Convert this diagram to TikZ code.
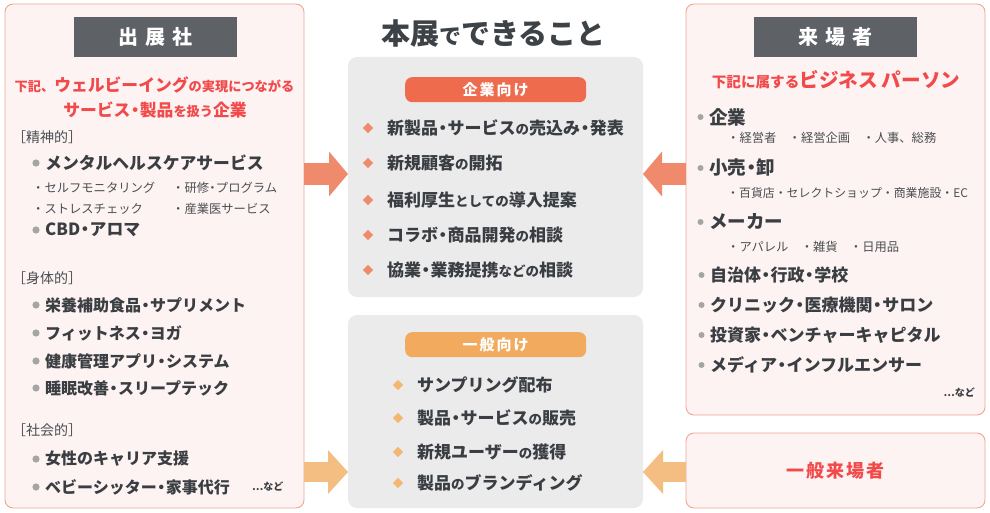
\documentclass[tikz,border=0pt]{standalone}
\usepackage{fontspec}
\setmainfont{Noto Sans CJK JP}
\usetikzlibrary{arrows.meta}
\definecolor{panelfill}{HTML}{FDF3F2}
\definecolor{panelline}{HTML}{F0A594}
\definecolor{titlegray}{HTML}{5E6166}
\definecolor{redtxt}{HTML}{F2494B}
\definecolor{txt}{HTML}{3A3E43}
\definecolor{subtxt}{HTML}{4A4E53}
\definecolor{titletxt}{HTML}{3D4247}
\definecolor{boxgray}{HTML}{EBEBEB}
\definecolor{pillA}{HTML}{EE6C4D}
\definecolor{pillB}{HTML}{F1AA5E}
\definecolor{arrA}{HTML}{EF8A6C}
\definecolor{arrB}{HTML}{F4BD82}
\definecolor{bulgray}{HTML}{A5A5A5}
\definecolor{diaA}{HTML}{EF8A6A}
\definecolor{diaB}{HTML}{F3B673}
\newcommand\fsz[1]{\fontsize{#1}{#1}\selectfont}
\newcommand\md{\hspace{-0.22em}・\hspace{-0.22em}}
\newcommand\litem[4]{\node[item] (#1) at (#2,#3) {#4};
  \fill[bulgray] ([xshift=-9pt]#1.west) circle (3.6pt);}
\newcommand\ritem[4]{\node[item] (#1) at (#2,#3) {#4};
  \fill[bulgray] ([xshift=-8.5pt]#1.west) circle (3pt);}
\newcommand\ditem[5]{\node[ditemstyle] (#1) at (#2,#3) {#4};
  \fill[#5] ([xshift=-19pt]#1.west) ++(0,5.2pt) -- ++(5.2pt,-5.2pt) -- ++(-5.2pt,-5.2pt) -- ++(-5.2pt,5.2pt) -- cycle;}
\begin{document}
\begin{tikzpicture}[x=1pt,y=-1pt,
  panel/.style={draw=panelline, fill=panelfill, line width=0.9pt, rounded corners=8pt, inner sep=0pt, outer sep=0pt, anchor=north west},
  gbox/.style={fill=boxgray, rounded corners=9pt, inner sep=0pt, outer sep=0pt, anchor=north west},
  titlebox/.style={fill=titlegray, inner sep=0pt, anchor=north west, minimum width=163pt, minimum height=40pt, text=white, font={\bfseries\fsz{20}}},
  pill/.style={rounded corners=7pt, inner sep=0pt, anchor=north west, minimum width=181pt, minimum height=25pt, text=white, font={\bfseries\fsz{15}}},
  item/.style={inner sep=0pt, anchor=west, text=txt, font={\bfseries\fsz{16}}},
  ditemstyle/.style={inner sep=0pt, anchor=west, text=txt, font={\bfseries\fsz{17}}},
  subitem/.style={inner sep=0pt, anchor=west, text=subtxt, font={\fsz{12.3}}},
  cat/.style={inner sep=0pt, anchor=west, text=subtxt, font={\fsz{14}}},
  redhead/.style={inner sep=0pt, text=redtxt, font=\bfseries},
  etc/.style={inner sep=0pt, text=txt, font={\bfseries\fsz{10}}},
  arrowA/.style={draw=arrA, line width=22pt, -{Triangle[length=19pt, width=45pt, line width=0pt, fill=arrA]}},
  arrowB/.style={draw=arrB, line width=20pt, -{Triangle[length=20pt, width=44pt, line width=0pt, fill=arrB]}}
]
\useasboundingbox (0,0) rectangle (990,513);
\fill[white] (0,0) rectangle (990,513);

% panels and boxes
\node[panel, minimum width=299pt, minimum height=504pt] (lp) at (5,4) {};
\node[panel, minimum width=299pt, minimum height=411pt] (rp) at (686,4) {};
\node[panel, minimum width=299pt, minimum height=75pt] (rg) at (686,433) {};
\node[gbox, minimum width=295pt, minimum height=240pt] (b1) at (348,57) {};
\node[gbox, minimum width=295pt, minimum height=193pt] (b2) at (348,315) {};

% arrows
\coordinate (yA) at (0,174);
\coordinate (yB) at (0,472);
\draw[arrowA] (lp.east |- yA) -- (b1.west |- yA);
\draw[arrowA] (rp.west |- yA) -- (b1.east |- yA);
\draw[arrowB] (lp.east |- yB) -- (b2.west |- yB);
\draw[arrowB] (rg.west |- yB) -- (b2.east |- yB);

% title boxes
\node[titlebox] (lt) at (74,17) {出\hspace{7pt}展\hspace{7pt}社};
\node[titlebox] (rt) at (754,17) {来\hspace{7pt}場\hspace{7pt}者};

% main title
\node[inner sep=0pt, text=titletxt, font=\bfseries] (ttl) at (493.5,34) {\fsz{29}本展\fsz{22}で\fsz{29}できること};

% pills
\node[pill, fill=pillA] (p1) at (405,77) {企\hspace{2pt}業\hspace{2pt}向\hspace{2pt}け};
\node[pill, fill=pillB] (p2) at (405,332) {一\hspace{2pt}般\hspace{2pt}向\hspace{2pt}け};

% left headings
\node[redhead] (lh1) at (154.5,85) {\fsz{13.2}下記、\fsz{16.8}ウェルビーイング\fsz{13.2}の実現につながる};
\node[redhead] (lh2) at (155,110) {\fsz{16.8}サービス\md 製品\fsz{13.2}を扱う\fsz{16.8}企業};

% left items
\node[cat] (c1) at (12,137) {［精神的］};
\litem{l1}{45}{163}{\fsz{16.8}メンタルヘルスケアサービス}
\node[subitem] (s1) at (32,188) {・セルフモニタリング};
\node[subitem] (s2) at (172,188) {・研修\md プログラム};
\node[subitem] (s3) at (32,209) {・ストレスチェック};
\node[subitem] (s4) at (172,209) {・産業医サービス};
\litem{l2}{45}{230}{\fsz{16.8}CBD\md アロマ}
\node[cat] (c2) at (12,278) {［身体的］};
\litem{l3}{45}{305}{栄養補助食品\md サプリメント}
\litem{l4}{45}{333}{フィットネス\md ヨガ}
\litem{l5}{45}{361}{健康管理アプリ\md システム}
\litem{l6}{45}{388}{睡眠改善\md スリープテック}
\node[cat] (c3) at (12,430) {［社会的］};
\litem{l7}{45}{459}{女性のキャリア支援}
\litem{l8}{45}{487}{ベビーシッター\md 家事代行}
\node[etc, anchor=west] (le) at (252,487) {…など};

% center items
\ditem{a1}{387}{128}{新製品\md サービス\fsz{13.5}の\fsz{17}売込み\md 発表}{diaA}
\ditem{a2}{387}{163}{新規顧客\fsz{13.5}の\fsz{17}開拓}{diaA}
\ditem{a3}{387}{200}{福利厚生\fsz{13.5}としての\fsz{17}導入提案}{diaA}
\ditem{a4}{387}{235}{コラボ\md 商品開発\fsz{13.5}の\fsz{17}相談}{diaA}
\ditem{a5}{387}{270}{協業\md 業務提携\fsz{13.5}などの\fsz{17}相談}{diaA}
\ditem{g1}{417}{385}{サンプリング配布}{diaB}
\ditem{g2}{417}{418}{製品\md サービス\fsz{13.5}の\fsz{17}販売}{diaB}
\ditem{g3}{417}{452}{新規ユーザー\fsz{13.5}の\fsz{17}獲得}{diaB}
\ditem{g4}{417}{483}{製品\fsz{13.5}の\fsz{17}ブランディング}{diaB}

% right heading
\node[redhead] (rh) at (836,80) {\fsz{14.6}下記に属する\fsz{19.6}ビジネス\hspace{4pt}パーソン};

% right items
\ritem{r1}{709}{117}{\fsz{18.5}企業}
\node[subitem] (t1) at (727,138) {・経営者　・経営企画　・人事、総務};
\ritem{r2}{709}{168}{\fsz{18.5}小売\md 卸}
\node[subitem, font={\fsz{11.9}}] (t2) at (727,193) {・百貨店・セレクトショップ・商業施設・EC};
\ritem{r3}{709}{222}{\fsz{18.5}メーカー}
\node[subitem] (t3) at (727,247) {・アパレル　・雑貨　・日用品};
\ritem{r4}{710}{275}{\fsz{17}自治体\md 行政\md 学校}
\ritem{r5}{710}{305}{\fsz{17}クリニック\md 医療機関\md サロン}
\ritem{r6}{710}{335}{\fsz{17}投資家\md ベンチャーキャピタル}
\ritem{r7}{710}{365}{\fsz{17}メディア\md インフルエンサー}
\node[etc, anchor=east] (re) at (975,393) {…など};

% general visitors
\node[redhead, font={\bfseries\fsz{18}}] (rgt) at (rg.center) {一\hspace{2pt}般\hspace{2pt}来\hspace{2pt}場\hspace{2pt}者};
\end{tikzpicture}
\end{document}
